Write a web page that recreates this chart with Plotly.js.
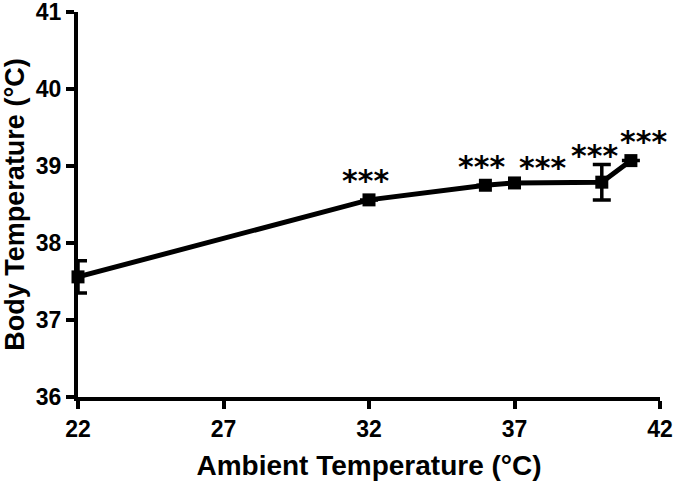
<!DOCTYPE html>
<html>
<head>
<meta charset="utf-8">
<script src="https://cdn.plot.ly/plotly-3.0.1.min.js"></script>
<style>html,body{margin:0;padding:0;background:#fff;}#chart{width:675px;height:483px;}</style>
</head>
<body>
<div id="chart"></div>
<script>
const ambientTemp = [22, 32, 36, 37, 40, 41];
const bodyTemp = [37.56, 38.56, 38.75, 38.78, 38.79, 39.07];
const bodyTempErr = [0.21, 0, 0, 0, 0.23, 0];
const sigLabels = ["", "***", "***", "***", "***", "***"];
const xTicks = [22, 27, 32, 37, 42];
const yTicks = [36, 37, 38, 39, 40, 41];

const FONT = "Liberation Sans, Arial, sans-serif";
const STARFONT = "DejaVu Sans, sans-serif";
const starShift = [[0,0],[-4,19],[-4,19],[28,15],[-7,27],[13,19]];

const annotations = [];
sigLabels.forEach((s, i) => {
  if (!s) return;
  annotations.push({
    x: ambientTemp[i], y: bodyTemp[i], xref: 'x', yref: 'y',
    text: '<b>' + s + '</b>', showarrow: false,
    xshift: starShift[i][0], yshift: starShift[i][1],
    font: {family: STARFONT, size: 30, color: '#000'}
  });
});

const trace = {
  x: ambientTemp, y: bodyTemp, type: 'scatter', mode: 'lines+markers',
  line: {color: '#000', width: 5},
  marker: {symbol: 'square', size: 13, color: '#000'},
  error_y: {type: 'data', array: bodyTempErr, visible: true, color: '#000', thickness: 3.5, width: 9},
  cliponaxis: false
};

const layout = {
  width: 675, height: 483,
  margin: {l: 78, r: 15, t: 12, b: 86},
  paper_bgcolor: '#fff', plot_bgcolor: '#fff',
  showlegend: false,
  font: {family: FONT, color: '#000'},
  xaxis: {
    range: [22, 42], tickvals: xTicks, ticktext: xTicks.map(v => '<b>' + v + '</b>'),
    showline: true, linewidth: 4, linecolor: '#000',
    ticks: 'outside', ticklen: 8, tickwidth: 4, tickcolor: '#000',
    showgrid: false, zeroline: false, ticklabeloverflow: 'allow',
    tickfont: {family: FONT, size: 23, color: '#000'},
    title: {text: '<b>Ambient Temperature (°C)</b>', font: {family: FONT, size: 28, color: '#000'}, standoff: 16}
  },
  yaxis: {
    range: [36, 41], tickvals: yTicks, ticktext: yTicks.map(v => '<b>' + v + '</b>'),
    showline: true, linewidth: 4, linecolor: '#000',
    ticks: 'outside', ticklen: 8, tickwidth: 4, tickcolor: '#000',
    showgrid: false, zeroline: false, ticklabeloverflow: 'allow',
    tickfont: {family: FONT, size: 23, color: '#000'},
    title: {text: '<b>Body Temperature (°C)</b>', font: {family: FONT, size: 27, color: '#000'}, standoff: 10}
  },
  annotations: annotations
};

Plotly.newPlot('chart', [trace], layout, {displayModeBar: false, staticPlot: true});
</script>
</body>
</html>
